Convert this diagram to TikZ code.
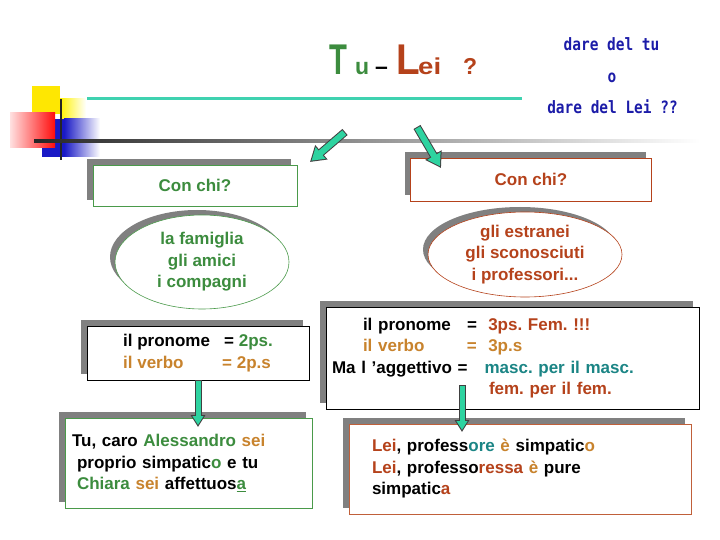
\documentclass[tikz,border=0pt]{standalone}
\usepackage{fontspec}
\setmainfont{Liberation Sans}
\newfontfamily\darefont[FakeStretch=0.85]{DejaVu Sans Mono}
\usepackage{tikz}
\usetikzlibrary{arrows.meta, positioning, shapes.geometric, shadows, calc}
\definecolor{tgreen}{HTML}{3C8C3E}
\definecolor{brownred}{HTML}{B5421B}
\definecolor{ochre}{HTML}{C8832D}
\definecolor{tealtxt}{HTML}{1B8585}
\definecolor{mint}{HTML}{2ED3A0}
\definecolor{dareblue}{HTML}{1C1CA8}
\definecolor{rulecolor}{HTML}{3FD2B0}
\definecolor{shadowgray}{HTML}{808080}
\definecolor{boxgreen}{HTML}{4A9A4A}
\definecolor{boxorange}{HTML}{C0603A}

% block arrow drawn as outline + filling
\newcommand{\blockarrow}[3]{%
  \draw[#1out] (#2) -- (#3);
  \draw[#1in] (#2) -- (#3);}

\begin{document}
\begin{tikzpicture}[x=1pt, y=-1pt,
    txt/.style={font=\fontsize{17}{21.5}\selectfont\bfseries\frenchspacing},
    card/.style={rectangle, draw=#1, fill=white, line width=0.8pt, inner sep=0pt, txt,
      general shadow={shadow xshift=-6pt, shadow yshift=6pt, fill=shadowgray}},
    blob/.style={ellipse, draw=#1, fill=white, line width=0.6pt, inner sep=-20pt, align=center, txt,
      general shadow={shadow xshift=-5pt, shadow yshift=5pt, fill=shadowgray}},
    dare/.style={font=\darefont\bfseries\fontsize{17}{17}\selectfont, text=dareblue, inner sep=0pt, anchor=base},
    bigarrowout/.style={line width=8pt, black!75, -{Triangle[length=15pt, width=18pt]}},
    bigarrowin/.style={line width=6pt, mint, -{Triangle[length=12pt, width=14.5pt]}, shorten <=1pt, shorten >=1.95pt},
    smallarrowout/.style={line width=7pt, black!75, -{Triangle[length=12pt, width=14pt]}},
    smallarrowin/.style={line width=5pt, mint, -{Triangle[length=9pt, width=10.5pt]}, shorten <=1pt, shorten >=2pt},
  ]
  \useasboundingbox (0,0) rectangle (720,540);

  % corner decoration
  \fill[yellow!90!orange] (32,86) rectangle (60,114);
  \shade[left color=yellow!90!orange, right color=white] (60,99) rectangle (86,119);
  \fill[blue!75!black!90] (42,119) rectangle (64,157);
  \shade[left color=blue!75!black!90, right color=white] (64,119) rectangle (100,157);
  \shade[left color=red!12, right color=red!95] (10,113) rectangle (55,148);
  \draw[line width=2pt, black!85] (61,99) -- (61,160);
  \shade[left color=black!85, middle color=black!40, right color=white] (34,139.5) rectangle (700,142.5);
  \draw[line width=3pt, rulecolor] (87,99) -- (522,99);

  % title
  \node[anchor=base west, inner sep=0pt, font=\bfseries] (title) at (329,75) {%
    \makebox[26pt][l]{\color{tgreen}\fontsize{43}{43}\selectfont\scalebox{0.68}[1]{T}}%
    \makebox[20pt][l]{\color{tgreen}\fontsize{23}{23}\selectfont u}%
    \makebox[21pt][l]{\fontsize{23}{23}\selectfont --}%
    \makebox[22pt][l]{\color{brownred}\fontsize{43}{43}\selectfont\scalebox{0.9}[1]{L}}%
    \makebox[45pt][l]{\color{brownred}\fontsize{23}{23}\selectfont\scalebox{1.2}[1]{ei}}%
    {\color{brownred}\fontsize{23}{23}\selectfont ?}};
  \node[dare] (dare1) at (611.5,51) {dare del tu};
  \node[dare] (dareo) at (612,83) {o};
  \node[dare] (dare2) at (612.5,114) {dare del Lei ??};

  % left column
  \node[card=boxgreen, minimum width=204pt, minimum height=41pt, text=tgreen] (conL) at (195,185.5) {Con chi?};
  \node[blob=boxgreen, minimum width=174pt, minimum height=94pt, text=tgreen] (famL) at (202,262) {la famiglia\\gli amici\\i compagni};
  \node[card=black, minimum width=222pt, minimum height=54pt, align=left] (pronL) at (198,353)
    {\makebox[101pt][l]{il pronome}= {\color{tgreen}2ps.}\\
     {\color{ochre}\makebox[99pt][l]{il verbo}= 2p.s}};
  \node[card=boxgreen, minimum width=247pt, minimum height=90pt, text width=233pt, align=left] (tuL) at (188.5,463)
    {Tu, caro {\color{tgreen}Alessandro} {\color{ochre}sei}\\
     \hspace*{5pt}proprio simpatic{\color{tgreen}o} e tu\\
     \hspace*{5pt}{\color{tgreen}Chiara} {\color{ochre}sei} affettuos{\color{tgreen}\underline{a}}};

  % right column
  \node[card=brownred, minimum width=241pt, minimum height=43pt, text=brownred] (conR) at (531,179.5) {Con chi?};
  \node[blob=brownred, minimum width=194pt, minimum height=85pt, text=brownred] (estR) at (525,254.5) {gli estranei\\gli sconosciuti\\i professori...};
  \node[card=black, minimum width=373pt, minimum height=102pt, text width=361pt, align=left] (pronR) at (512.5,358)
    {\hspace*{31pt}\makebox[104pt][l]{il pronome}=\ \ {\color{brownred}3ps. Fem. !!!}\\
     \hspace*{31pt}{\color{ochre}\makebox[104pt][l]{il verbo}=\ \ 3p.s}\\
     Ma l ’aggettivo =\ \ \ {\color{tealtxt}masc. per il masc.}\\
     \hspace*{157pt}{\color{brownred}fem. per il fem.}};
  \node[card=boxorange, minimum width=342pt, minimum height=90pt, text width=296pt, align=left] (leiR) at (520,469)
    {{\color{brownred}Lei}, profess{\color{tealtxt}ore} {\color{ochre}è} simpatic{\color{ochre}o}\\
     {\color{brownred}Lei}, professo{\color{brownred}ressa} {\color{ochre}è} pure\\
     simpatic{\color{brownred}a}};

  % arrows
  \coordinate (tailL) at (345,132);
  \coordinate (headL) at (310,162);
  \coordinate (tailR) at (417,127);
  \coordinate (headR) at (441,168);
  \coordinate (headTu) at (198,427);
  \coordinate (tailLei) at (462,385);
  \coordinate (headLei) at (462,432);
  \blockarrow{bigarrow}{tailL}{headL}
  \blockarrow{bigarrow}{tailR}{headR}
  \blockarrow{smallarrow}{pronL.south}{headTu}
  \blockarrow{smallarrow}{tailLei}{headLei}
\end{tikzpicture}
\end{document}
